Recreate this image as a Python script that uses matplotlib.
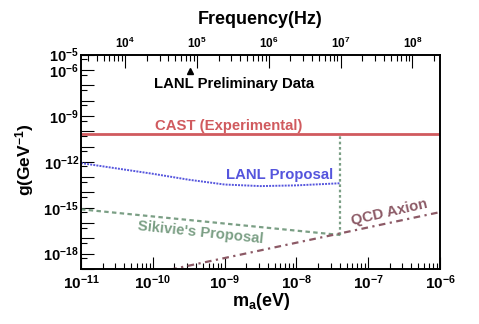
import numpy as np
import matplotlib
matplotlib.use('Agg')
import matplotlib.pyplot as plt
from matplotlib.ticker import FixedLocator, LogLocator, FuncFormatter, NullFormatter

plt.rcParams['font.family'] = 'Liberation Sans'
plt.rcParams['font.weight'] = 'bold'
plt.rcParams['mathtext.fontset'] = 'custom'
plt.rcParams['mathtext.rm'] = 'Liberation Sans:bold'
plt.rcParams['mathtext.bf'] = 'Liberation Sans:bold'
plt.rcParams['mathtext.it'] = 'Liberation Sans:bold'

# axion mass (eV) -> frequency (Hz)
ev_to_hz = 2.418e14

# CAST limit (horizontal line)
cast_g = 6.6e-11

# LANL proposal sensitivity
lanl_m = [1e-11, 3.16e-11, 1e-10, 3.16e-10, 1e-9, 3.16e-9, 1e-8, 4.1e-8]
lanl_g = [8.3e-13, 3.7e-13, 1.66e-13, 6.8e-14, 3.3e-14, 2.6e-14, 2.9e-14, 4.0e-14]

# Sikivie's proposal
sik_m = [1e-11, 4.1e-8]
sik_g = [7.9e-16, 1.66e-17]

# QCD axion line
qcd_m = [1e-10, 1e-6]
qcd_g = [5.2e-20, 5.2e-16]

# LANL preliminary data point
prelim_m = [3.3e-10]
prelim_g = [8.5e-7]

y_labelled = [-5, -6, -9, -12, -15, -18]

c_cast = '#d05a5e'
c_lanl = '#5555dd'
c_sik = '#7b9f85'
c_qcd = '#8c5a66'

fig = plt.figure(figsize=(4.79, 3.24), dpi=100)
ax = fig.add_axes([0.1691, 0.1698, 0.7495, 0.6614])

ax.set_xscale('log')
ax.set_yscale('log')
ax.set_xlim(1e-11, 1e-6)
ax.set_ylim(1e-19, 1e-5)

ax.axhline(cast_g, color=c_cast, lw=2)
ax.plot(lanl_m, lanl_g, color=c_lanl, lw=1.4, ls=(0, (1, 0.6)))
ax.plot(sik_m, sik_g, color=c_sik, lw=1.6, ls=(0, (2, 1.5)))
ax.plot([sik_m[-1], sik_m[-1]], [sik_g[-1], cast_g], color=c_sik, lw=1.6, ls=(0, (1.2, 1.2)))
ax.plot(qcd_m, qcd_g, color=c_qcd, lw=1.6, ls=(0, (3, 2, 1, 2)))
ax.plot(prelim_m, prelim_g, marker='^', color='black', ms=4, ls='none')

fs_note = 10.7
ax.text(10**-8.87, 10**-6.92, 'LANL Preliminary Data', ha='center', va='center',
        fontsize=fs_note, color='black')
ax.text(10**-8.95, 10**-9.67, 'CAST (Experimental)', ha='center', va='center',
        fontsize=fs_note, color=c_cast)
ax.text(10**-8.24, 10**-12.87, 'LANL Proposal', ha='center', va='center',
        fontsize=fs_note, color=c_lanl)
ax.text(10**-9.33, 10**-16.65, "Sikivie's Proposal", ha='center', va='center',
        fontsize=fs_note, color=c_sik, rotation=-6)
ax.text(10**-6.71, 10**-15.3, 'QCD Axion', ha='center', va='center',
        fontsize=fs_note, color=c_qcd, rotation=13)

# y ticks
ax.yaxis.set_major_locator(FixedLocator([10.0**e for e in range(-19, -4)]))
ax.yaxis.set_minor_locator(FixedLocator([5 * 10.0**e for e in range(-19, -5)]))
ax.yaxis.set_major_formatter(FuncFormatter(
    lambda v, p: r'$10^{%d}$' % round(np.log10(v)) if round(np.log10(v)) in y_labelled else ''))
ax.yaxis.set_minor_formatter(NullFormatter())

# x ticks
ax.xaxis.set_major_locator(LogLocator(base=10, numticks=20))
ax.xaxis.set_minor_locator(LogLocator(base=10, subs=np.arange(2, 10), numticks=20))
ax.xaxis.set_major_formatter(FuncFormatter(lambda v, p: r'$10^{%d}$' % round(np.log10(v))))
ax.xaxis.set_minor_formatter(NullFormatter())

ax.tick_params(axis='both', which='both', direction='in', width=0.8, top=False, right=False)
ax.tick_params(axis='x', which='major', length=9, labelsize=11, pad=3)
ax.tick_params(axis='x', which='minor', length=4.5)
ax.tick_params(axis='y', which='major', length=9, labelsize=10.5, pad=1.5)
ax.tick_params(axis='y', which='minor', length=4.5)

# top frequency axis
top = ax.twiny()
top.set_xscale('log')
top.set_xlim(1e-11 * ev_to_hz, 1e-6 * ev_to_hz)
top.xaxis.set_major_locator(LogLocator(base=10, numticks=20))
top.xaxis.set_minor_locator(LogLocator(base=10, subs=np.arange(2, 10), numticks=20))
top.xaxis.set_major_formatter(FuncFormatter(lambda v, p: r'$10^{%d}$' % round(np.log10(v))))
top.xaxis.set_minor_formatter(NullFormatter())
top.tick_params(axis='x', which='both', direction='in', width=0.8)
top.tick_params(axis='x', which='major', length=9, labelsize=8.5, pad=2.5)
top.tick_params(axis='x', which='minor', length=4.5)

for a in (ax, top):
    for s in a.spines.values():
        s.set_linewidth(1.2)

fig.text(261 / 479, 1 - 301 / 324, r'm$_{\mathrm{a}}$(eV)', ha='center', va='center', fontsize=13)
fig.text(25 / 479, 1 - 160 / 324, r'g(GeV$^{\mathrm{-1}}$)', ha='center', va='center',
         fontsize=12.5, rotation=90)
fig.text(260 / 479, 1 - 20 / 324, 'Frequency(Hz)', ha='center', va='center', fontsize=13)

fig.savefig('out.png', dpi=100)
